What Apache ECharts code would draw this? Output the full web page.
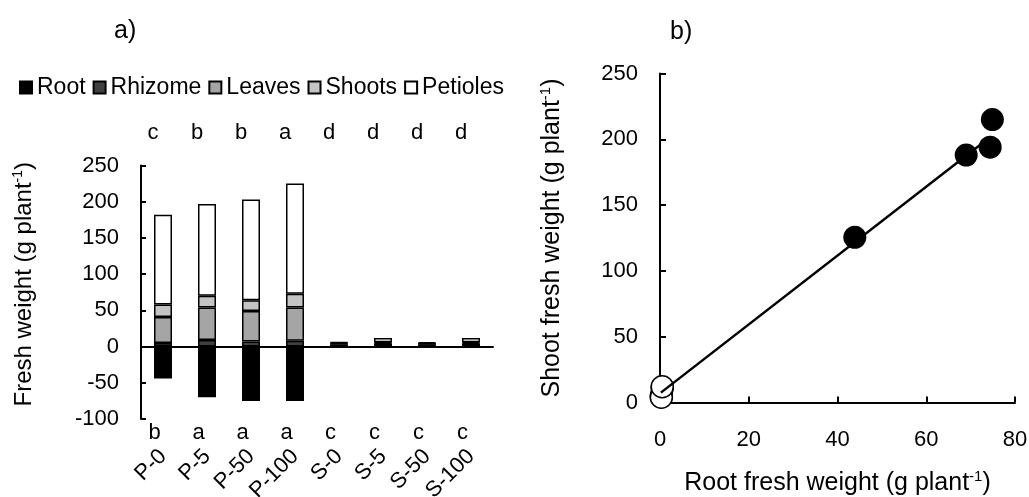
<!DOCTYPE html>
<html>
<head>
<meta charset="utf-8">
<title>Fresh weight</title>
<script src="https://cdn.jsdelivr.net/npm/echarts@6/dist/echarts.min.js"></script>
<style>
  html, body { margin: 0; padding: 0; background: #fff; }
  #chart { width: 1029px; height: 497px; }
</style>
</head>
<body>
<div id="chart"></div>
<script>
// a) 各处理的鲜重（负值为根）
const categories = ['P-0', 'P-5', 'P-50', 'P-100', 'S-0', 'S-5', 'S-50', 'S-100']
const root = [-44, -70, -75, -75, -0.4, -0.4, -0.4, -0.4]
const rhizome = [5, 9, 7, 8, 3, 4, 3, 4]
const leaves = [36, 45, 42, 46, 1, 1, 1, 1]
const shoots = [17, 16, 15, 19, 1, 1, 0.5, 1]
const petioles = [124, 127, 139, 152, 1, 6, 1.5, 6]
const topLetters = ['c', 'b', 'b', 'a', 'd', 'd', 'd', 'd']
const bottomLetters = ['b', 'a', 'a', 'a', 'c', 'c', 'c', 'c']

// b) 根鲜重 vs 地上部鲜重
const pRoot = [43.9, 69, 74.4, 74.9]
const pShoot = [125.5, 188, 194, 215]
const sRoot = [0.3, 0.5, 0.3, 0.5]
const sShoot = [5, 11, 4, 12]
const fitRoot = [0.2, 74.5]
const fitShoot = [7.5, 202]

const FONT = 'Liberation Sans, Arial, sans-serif'
const black = '#000'

const barNames = ['Root', 'Rhizome', 'Leaves', 'Shoots', 'Petioles']
const barData = [root, rhizome, leaves, shoots, petioles]
const barColors = ['#000000', '#404040', '#a5a5a5', '#c4c4c4', '#ffffff']

function zip(xs, ys) {
  return xs.map((x, i) => [x, ys[i]])
}

// 轴的公共样式
const lineStyle = { color: black, width: 2 }
const noAxis = {
  axisLine: { show: false },
  axisTick: { show: false },
  splitLine: { show: false }
}
const label = { color: black, fontFamily: FONT, fontSize: 22 }

function nameRich(size) {
  return {
    a: { fontFamily: FONT, fontSize: size, color: black, lineHeight: size + 3 },
    s: { fontFamily: FONT, fontSize: Math.round(size * 0.6), color: black, verticalAlign: 'top', lineHeight: 14 }
  }
}

let series = barNames.map((name, i) => ({
  name: name,
  type: 'bar',
  stack: 'fw',
  xAxisIndex: 0,
  yAxisIndex: 0,
  barWidth: 18,
  data: barData[i],
  itemStyle: { color: barColors[i], borderColor: black, borderWidth: 1.5 },
  emphasis: { disabled: true }
}))

series.push({
  name: 'S',
  type: 'scatter',
  xAxisIndex: 4,
  yAxisIndex: 1,
  symbolSize: 22,
  data: zip(sRoot, sShoot),
  itemStyle: { color: '#fff', borderColor: black, borderWidth: 1.5, opacity: 1 },
  z: 2
}, {
  name: 'fit',
  type: 'line',
  xAxisIndex: 4,
  yAxisIndex: 1,
  showSymbol: false,
  data: zip(fitRoot, fitShoot),
  lineStyle: { color: black, width: 2.5 },
  z: 3
}, {
  name: 'P',
  type: 'scatter',
  xAxisIndex: 4,
  yAxisIndex: 1,
  symbolSize: 23,
  data: zip(pRoot, pShoot),
  itemStyle: { color: black, opacity: 1 },
  z: 4
})

const option = {
  backgroundColor: '#fff',
  animation: false,
  title: [
    { text: 'a)', left: 109, top: 14, textStyle: { fontFamily: FONT, fontSize: 25, fontWeight: 'normal', color: black } },
    { text: 'b)', left: 665, top: 15, textStyle: { fontFamily: FONT, fontSize: 25, fontWeight: 'normal', color: black } }
  ],
  legend: {
    data: barNames,
    left: 14,
    top: 71,
    icon: 'rect',
    itemWidth: 12,
    itemHeight: 12,
    itemGap: 7,
    textStyle: { fontFamily: FONT, fontSize: 23, color: black },
    selectedMode: false
  },
  grid: [
    { left: 141, right: 536, top: 165.5, bottom: 78, outerBoundsMode: 'none' },
    { left: 660, right: 14, top: 73.5, bottom: 94.5, outerBoundsMode: 'none' }
  ],
  xAxis: [
    // 0 轴线在零处
    {
      type: 'category', gridIndex: 0, data: categories,
      axisLine: { onZero: true, lineStyle: lineStyle },
      axisTick: { inside: true, length: 6, lineStyle: lineStyle },
      axisLabel: { show: false },
      splitLine: { show: false }
    },
    // 1 下方字母
    Object.assign({
      type: 'category', gridIndex: 0, data: bottomLetters, position: 'bottom',
      axisLabel: Object.assign({ margin: 3, padding: [0, 17, 0, 0] }, label)
    }, noAxis, { axisLine: { show: false, onZero: false } }),
    // 2 处理名称（旋转）
    Object.assign({
      type: 'category', gridIndex: 0, data: categories, position: 'bottom',
      axisLabel: Object.assign({ margin: 34, rotate: 45, interval: 0 }, label)
    }, noAxis, { axisLine: { show: false, onZero: false } }),
    // 3 上方字母
    Object.assign({
      type: 'category', gridIndex: 0, data: topLetters, position: 'top',
      axisLabel: Object.assign({ margin: 22, padding: [0, 20, 0, 0] }, label)
    }, noAxis, { axisLine: { show: false, onZero: false } }),
    // 4 b) 横轴
    {
      type: 'value', gridIndex: 1, min: 0, max: 80, interval: 20,
      name: '{a|Root fresh weight (g plant}{s|-1}{a|)}',
      nameLocation: 'middle', nameGap: 67,
      nameTextStyle: { rich: nameRich(25) },
      axisLine: { onZero: false, lineStyle: lineStyle },
      axisTick: { inside: true, length: 6, lineStyle: lineStyle },
      axisLabel: Object.assign({ margin: 26 }, label),
      splitLine: { show: false }
    }
  ],
  yAxis: [
    {
      type: 'value', gridIndex: 0, min: -100, max: 250, interval: 50,
      name: '{a|Fresh weight (g plant}{s|-1}{a|)}',
      nameLocation: 'middle', nameGap: 103, nameRotate: 90,
      nameTextStyle: { rich: nameRich(24), padding: [0, 0, 0, 16] },
      axisLine: { show: true, onZero: false, lineStyle: lineStyle },
      axisTick: { show: true, inside: true, length: 5, lineStyle: lineStyle },
      axisLabel: Object.assign({ margin: 22 }, label),
      splitLine: { show: false }
    },
    {
      type: 'value', gridIndex: 1, min: 0, max: 250, interval: 50,
      name: '{a|Shoot fresh weight (g plant}{s|-1}{a|)}',
      nameLocation: 'middle', nameGap: 94, nameRotate: 90,
      nameTextStyle: { rich: nameRich(25) },
      axisLine: { show: true, onZero: false, lineStyle: lineStyle },
      axisTick: { show: true, inside: true, length: 6, lineStyle: lineStyle },
      axisLabel: Object.assign({ margin: 22 }, label),
      splitLine: { show: false }
    }
  ],
  series: series
}

const myChart = echarts.init(document.getElementById('chart'))
myChart.setOption(option)
window.addEventListener('resize', function () {
  myChart.resize()
})
</script>
</body>
</html>
